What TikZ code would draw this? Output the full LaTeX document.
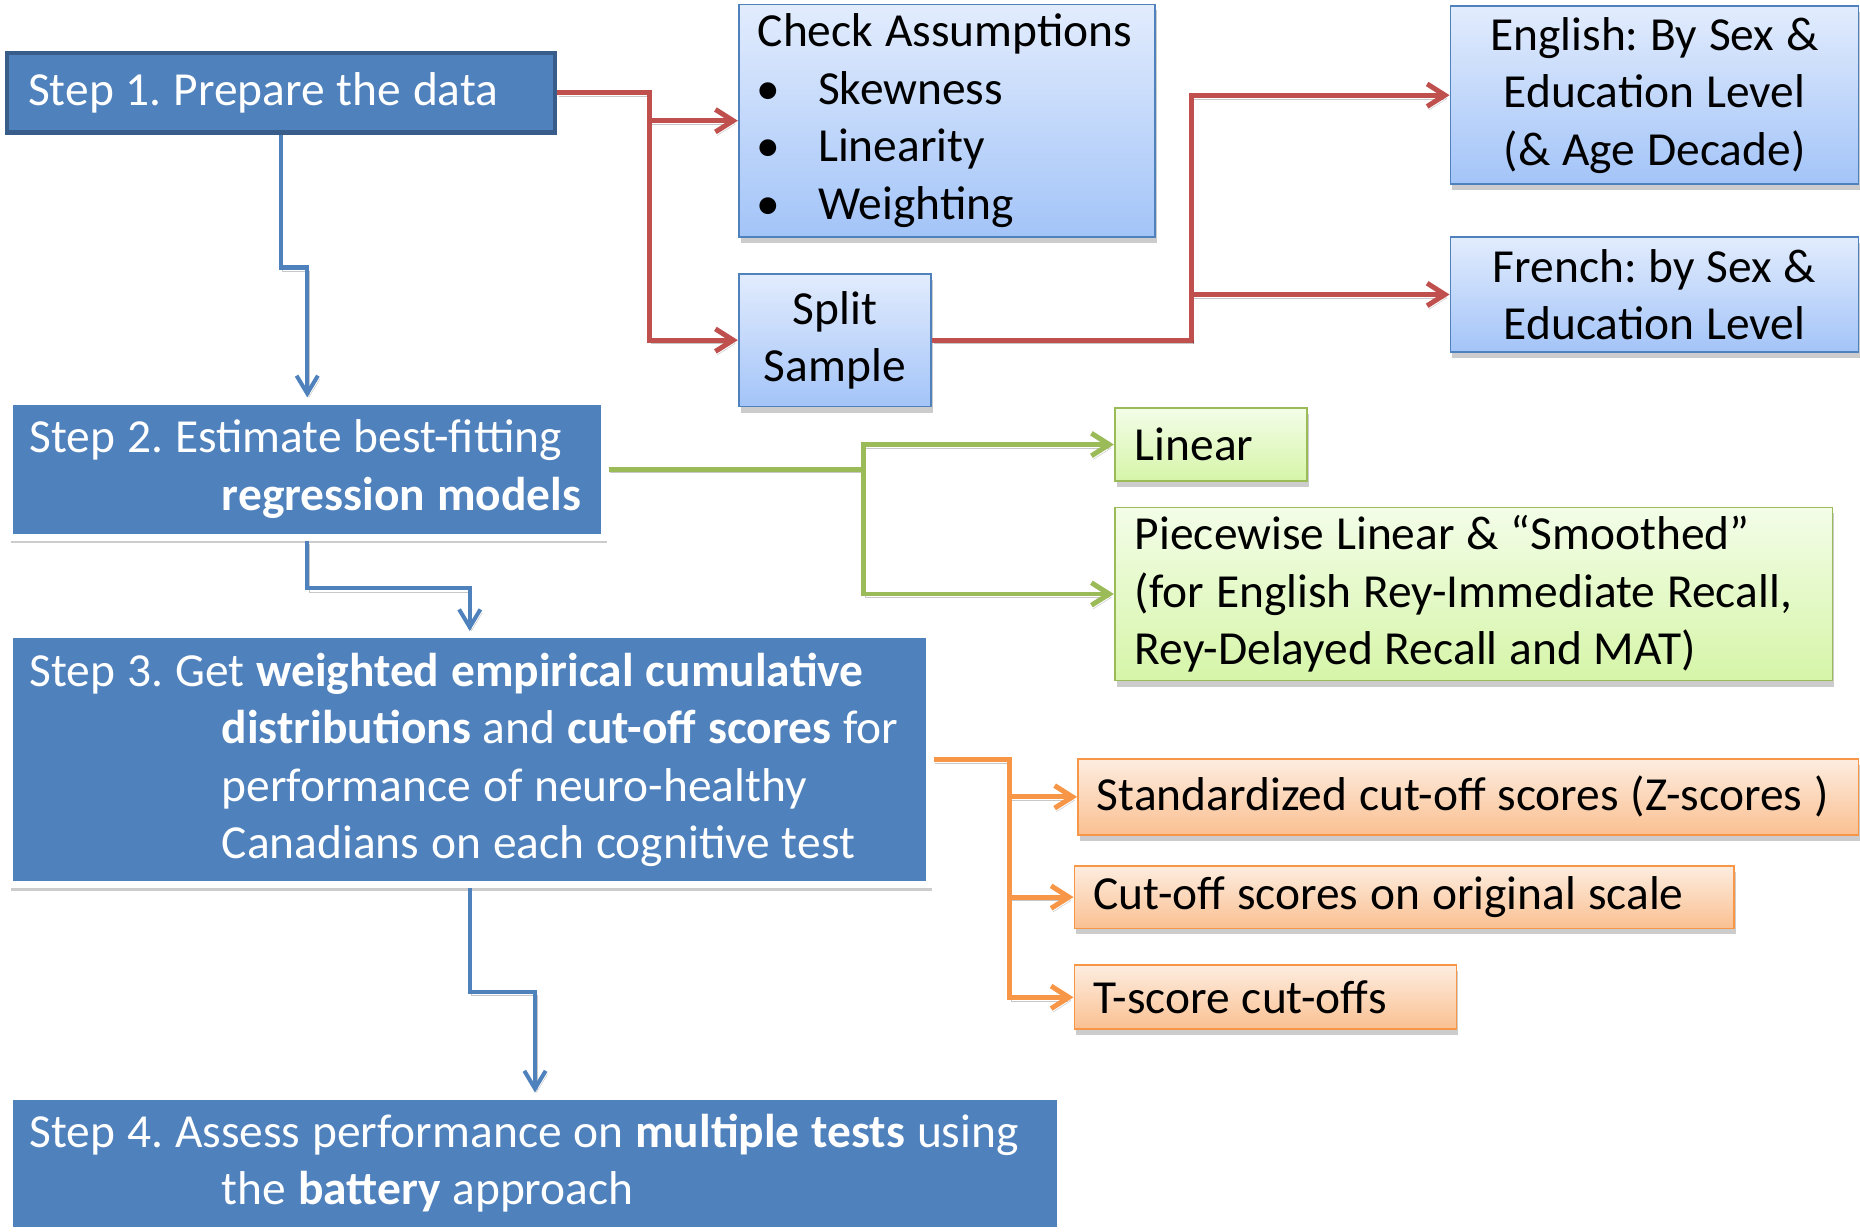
\documentclass[tikz,border=0pt]{standalone}
\usepackage{fontspec}
\setmainfont{Carlito}
\usetikzlibrary{arrows.meta,shadows}
\definecolor{stepblue}{HTML}{4F81BD}
\definecolor{stepedge}{HTML}{385D8A}
\definecolor{cred}{HTML}{C0504D}
\definecolor{cgreen}{HTML}{9BBB59}
\definecolor{corange}{HTML}{F79646}
\definecolor{lbtop}{RGB}{226,236,253}
\definecolor{lbbot}{RGB}{163,196,248}
\definecolor{lgtop}{RGB}{243,253,232}
\definecolor{lgbot}{RGB}{214,245,168}
\definecolor{lotop}{RGB}{253,237,224}
\definecolor{lobot}{RGB}{250,192,145}
\newcommand\boxfont{\fontsize{40}{48.5}\selectfont\frenchspacing}
\newcommand\ind{\hspace*{162pt}}
\newcommand\Ln[1]{\mbox{\spaceskip=0.25em\xspaceskip=0.25em\relax#1}}
\newcommand\bul[1]{\Ln{\makebox[51pt][l]{\hspace*{-1pt}\textbullet}#1}}
\begin{document}
\begin{tikzpicture}[x=1pt,y=-1pt,
  base/.style={anchor=north west, inner ysep=0pt, font=\boxfont},
  shad/.style={drop shadow={shadow xshift=1.5pt, shadow yshift=-5pt, opacity=0.2, fill=black}},
  stepone/.style={base, draw=stepedge, line width=3.5pt, fill=stepblue, text=white, align=left, inner xsep=18pt},
  stepbox/.style={base, shad, draw=white, line width=6pt, fill=stepblue, text=white, align=left, inner xsep=17pt},
  bluebox/.style={base, shad, draw=stepblue, line width=1.5pt, top color=lbtop, bottom color=lbbot, text=black, inner xsep=16pt},
  greenbox/.style={base, shad, draw=cgreen, line width=1.5pt, top color=lgtop, bottom color=lgbot, text=black, inner xsep=17pt, align=left},
  orangebox/.style={base, shad, draw=corange, line width=1.5pt, top color=lotop, bottom color=lobot, text=black, inner xsep=16pt, align=left},
  cshadow/.style={preaction={draw=black, opacity=0.22, transform canvas={shift={(1.5pt,-3pt)}}}},
  conn/.style={cshadow, line width=4.2pt, -{Straight Barb[length=15pt,width=19pt]}},
  redc/.style={conn, draw=cred},
  greenc/.style={conn, draw=cgreen},
  orangec/.style={conn, draw=corange},
  bluec/.style={cshadow, line width=3.4pt, draw=stepblue, -{Straight Barb[length=15pt,width=18pt]}}
]
\useasboundingbox (0,0) rectangle (1568,1038);

% step boxes
\node[stepone, minimum width=462pt, minimum height=67pt, text width=426pt] (s1) at (4,43) {\Ln{Step 1. Prepare the data}};
\node[stepbox, minimum width=502pt, minimum height=115pt, text width=468pt] (s2) at (5,335)
  {\Ln{Step 2. Estimate best-fitting}\\\Ln{\ind\textbf{regression models}}};
\node[stepbox, minimum width=776pt, minimum height=211pt, text width=742pt] (s3) at (5,532)
  {\Ln{Step 3. Get \textbf{weighted empirical cumulative}}\\\Ln{\ind\textbf{distributions} and \textbf{cut-off scores} for}\\\Ln{\ind performance of neuro-healthy}\\\Ln{\ind Canadians on each cognitive test}};
\node[stepbox, minimum width=886pt, minimum height=113pt, text width=852pt] (s4) at (5,921)
  {\Ln{Step 4. Assess performance on \textbf{multiple tests} using}\\\Ln{\ind the \textbf{battery} approach}};

% light blue boxes
\node[bluebox, align=left, minimum width=351pt, minimum height=196pt, text width=319pt] (chk) at (622,3)
  {\Ln{Check Assumptions}\\\bul{Skewness}\\\bul{Linearity}\\\bul{Weighting}};
\node[bluebox, align=center, minimum width=162pt, minimum height=112pt, text width=130pt] (split) at (622,230)
  {Split\\Sample};
\node[bluebox, align=center, minimum width=344pt, minimum height=150pt, text width=312pt] (eng) at (1222,4.5)
  {\Ln{English: By Sex \&}\\\Ln{Education Level}\\\Ln{(\& Age Decade)}};
\node[bluebox, align=center, minimum width=344pt, minimum height=97pt, text width=312pt] (fr) at (1222,199)
  {\Ln{French: by Sex \&}\\\Ln{Education Level}};

% green boxes
\node[greenbox, minimum width=162pt, minimum height=62pt, text width=128pt] (lin) at (939,343) {Linear};
\node[greenbox, minimum width=605pt, minimum height=146pt, text width=571pt] (pw) at (939,427)
  {\Ln{Piecewise Linear \& “Smoothed”}\\\Ln{(for English Rey-Immediate Recall,}\\\Ln{Rey-Delayed Recall and MAT)}};

% orange boxes
\node[orangebox, minimum width=658pt, minimum height=64pt, text width=626pt] (std) at (908,639)
  {\Ln{Standardized cut-off scores (Z-scores )}};
\node[orangebox, minimum width=556pt, minimum height=53pt, text width=524pt] (cut) at (905,729)
  {\Ln{Cut-off scores on original scale}};
\node[orangebox, minimum width=322pt, minimum height=54pt, text width=290pt] (ts) at (905,813)
  {\Ln{T-score cut-offs}};

% red connectors
\path (s1.east) -- ++(78,0) coordinate (r1);
\draw[redc] (s1.east) -- (r1) |- (chk.west);
\draw[redc] (r1) |- (split.west);
\path (split.east) -- ++(219,0) coordinate (r2);
\draw[redc] (split.east) -- (r2) |- (eng.west);
\draw[redc] (r2) |- (fr.west);

% green connectors
\path (s2.east) -- ++(215,0) coordinate (g1);
\draw[greenc] (s2.east) -- (g1) |- (lin.west);
\draw[greenc] (g1) |- (pw.west);

% orange connectors
\path (s3.east) -- ++(64,0) coordinate (o1);
\draw[orangec] (s3.east) -- (o1) |- (std.west);
\draw[orangec] (o1) |- (cut.west);
\draw[orangec] (o1) |- (ts.west);

% blue connectors
\draw[bluec] (s1.south) -- ++(0,112) -| (s2.north);
\draw[bluec] (s2.south) -- ++(0,40) -| (s3.north);
\draw[bluec] (s3.south) -- ++(0,87) -| (s4.north);
\end{tikzpicture}
\end{document}
